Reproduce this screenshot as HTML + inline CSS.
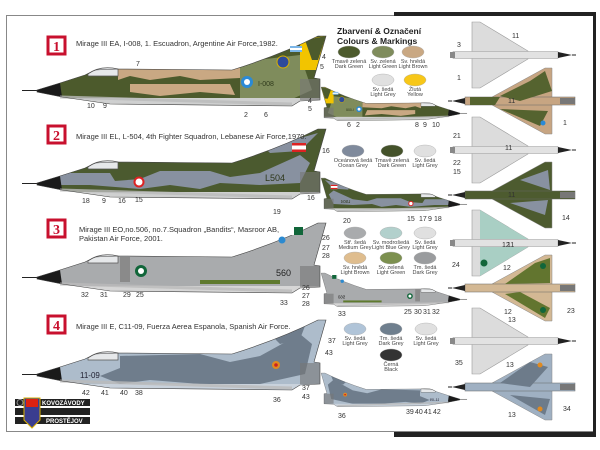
<!DOCTYPE html>
<html><head><meta charset="utf-8"><style>
html,body{margin:0;padding:0;background:#fff;}
svg{display:block;font-family:"Liberation Sans",sans-serif;}
.n{font-size:7px;fill:#333;}
.t{font-size:7.5px;fill:#333;}
.c{font-size:5.5px;fill:#444;text-anchor:middle;}
</style></head><body>
<svg width="600" height="450" viewBox="0 0 600 450" xmlns="http://www.w3.org/2000/svg">
<defs>
<path id="body" d="M37,90 L60,83 L85,75 L95,70 L118,69 L232,70 Q280,55 318,36 L326,36 L314,78 L320,79 L320,100 L300,101 L292,106 L110,104 L62,97 L37,92 Z"/>
<clipPath id="cb"><use href="#body"/></clipPath>
<g id="base">
 <line x1="22" y1="90.5" x2="40" y2="90.5" stroke="#222" stroke-width="1"/>
</g>
<g id="over">
 <path d="M37,90 L60,83 L62,97 L37,92 Z" fill="#1a1a1a"/>
 <path d="M88,74 Q100,65 118,69 L118,76 L88,76 Z" fill="#e6e8ea" stroke="#555" stroke-width="0.7"/>
 <rect x="300" y="79" width="20" height="21" fill="#777" opacity="0.6"/>
 <path d="M60,97 L292,104" stroke="#bbb" stroke-width="3" opacity="0.8"/>
 <use href="#body" fill="none" stroke="#444" stroke-width="0.6"/>
</g>
<g id="a1">
 <use href="#base"/>
 <g clip-path="url(#cb)">
  <rect x="0" y="0" width="340" height="120" fill="#4c5a2c"/>
  <path d="M118,68 L240,68 L240,78 L200,80 L180,76 L150,80 L130,76 L118,80 Z M130,84 L230,84 L235,95 L200,92 L160,96 L130,92Z" fill="#c9a883"/>
  <path d="M240,62 L300,55 L312,90 L290,100 L240,98 Z" fill="#7f8c5c"/>
  <path d="M300,40 L326,36 L316,70 L300,70 Z" fill="#f2c400"/>
  <path d="M305,40 L326,36 L318,60 L312,60 Z" fill="#4c5a2c"/>
  <rect x="0" y="98" width="340" height="12" fill="#cfd0d0"/>
 </g>
 <use href="#over"/>
 <circle cx="247" cy="82" r="6" fill="#2b8ad6"/><circle cx="247" cy="82" r="3" fill="#fff"/>
 <circle cx="283" cy="62" r="6" fill="#2e4a9a" stroke="#d9b000"/>
 <rect x="290" y="46" width="12" height="6" fill="#7bb6e8"/><rect x="290" y="48" width="12" height="2" fill="#fff"/>
 <text x="258" y="86" font-size="7" fill="#2f3a1c">I-008</text>
</g>
<g id="a2">
 <use href="#base"/>
 <g clip-path="url(#cb)">
  <rect x="0" y="0" width="340" height="120" fill="#4b5a2f"/>
  <path d="M60,80 L110,80 L115,88 L140,86 L160,78 L210,78 L230,84 L260,80 L300,62 L310,70 L300,90 L260,92 L220,90 L200,96 L170,92 L140,96 L90,92 L60,92Z" fill="#8891a0"/>
  <path d="M260,50 L300,45 L318,40 L300,58 L270,60Z" fill="#8891a0"/>
  <rect x="0" y="99" width="340" height="12" fill="#cfd0d0"/>
 </g>
 <use href="#over"/>
 <rect x="292" y="50" width="14" height="9" fill="#fff"/><rect x="292" y="50" width="14" height="2.5" fill="#d22"/><rect x="292" y="56.5" width="14" height="2.5" fill="#d22"/>
 <circle cx="139" cy="89" r="5.5" fill="#d22"/><circle cx="139" cy="89" r="3.5" fill="#fff"/>
 <text x="265" y="88" font-size="9" fill="#2d3619">L504</text>
</g>
<g id="a3">
 <use href="#base"/>
 <g clip-path="url(#cb)">
  <rect x="0" y="0" width="340" height="120" fill="#a9abad"/>
  <rect x="200" y="93" width="80" height="4" fill="#5f7a2e"/>
  <rect x="120" y="70" width="10" height="25" fill="#8a8a8a"/>
  <rect x="0" y="99" width="340" height="12" fill="#d6d6d6"/>
 </g>
 <use href="#over"/>
 <circle cx="141" cy="84" r="6" fill="#11663a"/><circle cx="141" cy="84" r="3" fill="#fff"/>
 <rect x="291" y="40" width="12" height="8" fill="#11663a"/><rect x="291" y="40" width="3" height="8" fill="#fff"/>
 <circle cx="282" cy="53" r="3.5" fill="#2c8ad0"/>
 <text x="276" y="89" font-size="9" fill="#222">560</text>
</g>
<g id="a4">
 <use href="#base"/>
 <g clip-path="url(#cb)">
  <rect x="0" y="0" width="340" height="120" fill="#adbccb"/>
  <path d="M120,72 L200,70 L230,78 L260,72 L300,50 L312,60 L305,90 L260,100 L200,100 L150,96 L120,100 L100,92 L120,84Z" fill="#6f7d8c"/>
  <path d="M270,50 L305,42 L300,55 L280,60Z" fill="#6f7d8c"/>
  <rect x="0" y="100" width="340" height="12" fill="#c9d2dc"/>
 </g>
 <use href="#over"/>
 <circle cx="276" cy="81" r="4" fill="#e08a20"/><circle cx="276" cy="81" r="1.8" fill="#c22"/>
 <text x="80" y="94" font-size="8" fill="#223">11-09</text>
</g>
<g id="gv">
 <path d="M472,-33 L480,-33 L528,-4 L528,4 L480,33 L472,33 Z" fill="#dcdcdc" stroke="#9a9a9a" stroke-width="0.6"/>
 <rect x="453" y="-3.5" width="105" height="7" fill="#e2e2e2" stroke="#999" stroke-width="0.5"/>
 <path d="M558,-3 L572,0 L558,3Z" fill="#222"/><line x1="572" y1="0" x2="576" y2="0" stroke="#222"/>
 <rect x="450" y="-3" width="5" height="6" fill="#888"/>
</g>
<g id="cv">
 <path d="M552,-33 L545,-33 L492,-4 L492,4 L545,33 L552,33 Z" stroke="#888" stroke-width="0.5"/>
 <rect x="465" y="-4" width="110" height="8" stroke="#666" stroke-width="0.5"/>
 <rect x="560" y="-3" width="15" height="6" fill="#777"/>
 <path d="M465,-3 L452,0 L465,3Z" fill="#222"/><line x1="452" y1="0" x2="448" y2="0" stroke="#222"/>
</g>
</defs>

<!-- frame -->
<rect x="6.5" y="15.5" width="588" height="416" fill="#fff" stroke="#888" stroke-width="1"/>
<rect x="394" y="12" width="201" height="4" fill="#222"/>
<rect x="593" y="12" width="3" height="425" fill="#222"/>
<rect x="394" y="432" width="201" height="5" fill="#222"/>

<use href="#a1"/>
<use href="#a2" transform="translate(0,93)"/>
<use href="#a3" transform="translate(0,187)"/>
<use href="#a4" transform="translate(0,284)"/>
<use href="#a1" transform="translate(477.6,69.8) scale(-0.48,0.48)"/>
<use href="#a2" transform="translate(477.6,160.8) scale(-0.48,0.48)"/>
<use href="#a3" transform="translate(477.6,255.8) scale(-0.48,0.48)"/>
<use href="#a4" transform="translate(477.6,355.8) scale(-0.48,0.48)"/>

<use href="#gv" transform="translate(0,55)"/>
<g transform="translate(0,101)"><use href="#cv" fill="#c7a582"/><path d="M500,-5 L530,-20 L545,-30 L552,-10 L520,0Z M500,8 L540,25 L548,10Z M470,-4 L500,-4 L495,4 L470,4Z" fill="#55632f"/><circle cx="543" cy="22" r="2.5" fill="#2b8ad6"/></g>
<use href="#gv" transform="translate(0,150)"/>
<g transform="translate(0,195)"><use href="#cv" fill="#4d5b2f"/><path d="M520,-15 L548,-25 L550,-5Z M510,8 L545,20 L548,5Z" fill="#8891a0"/></g>
<g transform="translate(0,243)"><use href="#gv"/><path d="M480,-33 L528,-4 L480,-4Z M480,33 L528,4 L480,4Z" fill="#a9cfc4"/><circle cx="484" cy="20" r="3.5" fill="#11663a"/></g>
<g transform="translate(0,288)"><use href="#cv" fill="#d3b894"/><path d="M505,-4 L535,-25 L550,-30 L550,-5Z M505,6 L545,30 L550,20 L520,4Z" fill="#62752f"/><circle cx="543" cy="-22" r="3" fill="#11663a"/><circle cx="543" cy="22" r="3" fill="#11663a"/></g>
<use href="#gv" transform="translate(0,341)"/>
<g transform="translate(0,387)"><use href="#cv" fill="#9fb0c2"/><path d="M500,-4 L530,-25 L548,-20 L530,0Z M510,8 L545,28 L550,12Z" fill="#6d7b8a"/><circle cx="540" cy="-22" r="2.5" fill="#e08a20"/><circle cx="540" cy="22" r="2.5" fill="#e08a20"/></g>

<g font-family="Liberation Serif,serif" font-weight="bold" font-size="14" text-anchor="middle" fill="#c8102e">
<rect x="48" y="37" width="17" height="17" fill="#fff" stroke="#c8102e" stroke-width="3"/><text x="56.5" y="51">1</text>
<rect x="48" y="126" width="17" height="17" fill="#fff" stroke="#c8102e" stroke-width="3"/><text x="56.5" y="140">2</text>
<rect x="48" y="220" width="17" height="17" fill="#fff" stroke="#c8102e" stroke-width="3"/><text x="56.5" y="234">3</text>
<rect x="48" y="316" width="17" height="17" fill="#fff" stroke="#c8102e" stroke-width="3"/><text x="56.5" y="330">4</text>
</g>
<text class="t" x="76" y="46">Mirage III EA, I-008, 1. Escuadron, Argentine Air Force,1982.</text>
<text class="t" x="76" y="139">Mirage III EL, L-504, 4th Fighter Squadron, Lebanese Air Force,1970.</text>
<text class="t" x="79" y="232">Mirage III EO,no.506, no.7.Squadron „Bandits“, Masroor AB,</text>
<text class="t" x="79" y="241">Pakistan Air Force, 2001.</text>
<text class="t" x="76" y="329">Mirage III E, C11-09, Fuerza Aerea Espanola, Spanish Air Force.</text>

<text x="337" y="34" font-size="8.5" font-weight="bold" fill="#222">Zbarvení &amp; Označení</text>
<text x="337" y="44" font-size="8.5" font-weight="bold" fill="#222">Colours &amp; Markings</text>

<g stroke="#aaa" stroke-width="0.4">
<ellipse cx="349" cy="52" rx="11" ry="6" fill="#4c5a2c"/><ellipse cx="383" cy="52" rx="11" ry="6" fill="#7f8c5c"/><ellipse cx="413" cy="52" rx="11" ry="6" fill="#c9a883"/>
<ellipse cx="383" cy="80" rx="11" ry="6" fill="#e0e0e0"/><ellipse cx="415" cy="80" rx="11" ry="6" fill="#f7c719"/>
<ellipse cx="353" cy="151" rx="11" ry="6" fill="#7f8a9c"/><ellipse cx="392" cy="151" rx="11" ry="6" fill="#44522a"/><ellipse cx="425" cy="151" rx="11" ry="6" fill="#e0e0e0"/>
<ellipse cx="355" cy="233" rx="11" ry="6" fill="#a9abad"/><ellipse cx="391" cy="233" rx="11" ry="6" fill="#b2d0cc"/><ellipse cx="425" cy="233" rx="11" ry="6" fill="#e0e0e0"/>
<ellipse cx="355" cy="258" rx="11" ry="6" fill="#dfbd8e"/><ellipse cx="391" cy="258" rx="11" ry="6" fill="#7c904f"/><ellipse cx="425" cy="258" rx="11" ry="6" fill="#9a9c9e"/>
<ellipse cx="355" cy="329" rx="11" ry="6" fill="#b0c4d8"/><ellipse cx="391" cy="329" rx="11" ry="6" fill="#6f7f8e"/><ellipse cx="426" cy="329" rx="11" ry="6" fill="#e0e0e0"/>
<ellipse cx="391" cy="355" rx="11" ry="6" fill="#333"/>
</g>
<g>
<text x="349" y="63" class="c">Tmavě zelená</text><text x="349" y="68" class="c">Dark Green</text>
<text x="383" y="63" class="c">Sv. zelená</text><text x="383" y="68" class="c">Light Green</text>
<text x="413" y="63" class="c">Sv. hnědá</text><text x="413" y="68" class="c">Light Brown</text>
<text x="383" y="91" class="c">Sv. šedá</text><text x="383" y="96" class="c">Light Grey</text>
<text x="415" y="91" class="c">Žlutá</text><text x="415" y="96" class="c">Yellow</text>
<text x="353" y="162" class="c">Oceánová šedá</text><text x="353" y="167" class="c">Ocean Grey</text>
<text x="392" y="162" class="c">Tmavě zelená</text><text x="392" y="167" class="c">Dark Green</text>
<text x="425" y="162" class="c">Sv. šedá</text><text x="425" y="167" class="c">Light Grey</text>
<text x="355" y="244" class="c">Stř. šedá</text><text x="355" y="249" class="c">Medium Grey</text>
<text x="391" y="244" class="c">Sv. modrošedá</text><text x="391" y="249" class="c">Light Blue Grey</text>
<text x="425" y="244" class="c">Sv. šedá</text><text x="425" y="249" class="c">Light Grey</text>
<text x="355" y="269" class="c">Sv. hnědá</text><text x="355" y="274" class="c">Light Brown</text>
<text x="391" y="269" class="c">Sv. zelená</text><text x="391" y="274" class="c">Light Green</text>
<text x="425" y="269" class="c">Tm. šedá</text><text x="425" y="274" class="c">Dark Grey</text>
<text x="355" y="340" class="c">Sv. šedá</text><text x="355" y="345" class="c">Light Grey</text>
<text x="391" y="340" class="c">Tm. šedá</text><text x="391" y="345" class="c">Dark Grey</text>
<text x="426" y="340" class="c">Sv. šedá</text><text x="426" y="345" class="c">Light Grey</text>
<text x="391" y="366" class="c">Černá</text><text x="391" y="371" class="c">Black</text>
</g>

<g class="n">
<text x="136" y="66">7</text><text x="87" y="108">10</text><text x="103" y="108">9</text><text x="244" y="117">2</text><text x="264" y="117">6</text>
<text x="322" y="59">4</text><text x="320" y="69">5</text><text x="308" y="103">4</text><text x="308" y="111">5</text>
<text x="347" y="127">6</text><text x="356" y="127">2</text><text x="415" y="127">8</text><text x="423" y="127">9</text><text x="432" y="127">10</text>
<text x="82" y="203">18</text><text x="102" y="203">9</text><text x="118" y="203">16</text><text x="135" y="202">15</text><text x="273" y="214">19</text>
<text x="322" y="153">16</text><text x="307" y="200">16</text><text x="343" y="223">20</text>
<text x="407" y="221">15</text><text x="419" y="221">17</text><text x="428" y="221">9</text><text x="434" y="221">18</text>
<text x="81" y="297">32</text><text x="100" y="297">31</text><text x="123" y="297">29</text><text x="136" y="297">25</text><text x="280" y="305">33</text>
<text x="322" y="240">26</text><text x="322" y="250">27</text><text x="322" y="258">28</text>
<text x="302" y="290">26</text><text x="302" y="298">27</text><text x="302" y="306">28</text><text x="338" y="316">33</text>
<text x="404" y="314">25</text><text x="414" y="314">30</text><text x="423" y="314">31</text><text x="432" y="314">32</text>
<text x="82" y="395">42</text><text x="101" y="395">41</text><text x="120" y="395">40</text><text x="135" y="395">38</text><text x="273" y="402">36</text>
<text x="328" y="343">37</text><text x="325" y="355">43</text><text x="302" y="390">37</text><text x="302" y="399">43</text><text x="338" y="418">36</text>
<text x="406" y="414">39</text><text x="415" y="414">40</text><text x="424" y="414">41</text><text x="433" y="414">42</text>
<text x="457" y="47">3</text><text x="512" y="38">11</text><text x="457" y="80">1</text><text x="508" y="103">11</text><text x="505" y="150">11</text><text x="563" y="125">1</text>
<text x="453" y="138">21</text><text x="453" y="165">22</text><text x="453" y="174">15</text><text x="508" y="197">11</text><text x="562" y="220">14</text>
<text x="502" y="247">12</text><text x="507" y="247">11</text><text x="452" y="267">24</text><text x="503" y="270">12</text><text x="504" y="314">12</text><text x="567" y="313">23</text>
<text x="508" y="322">13</text><text x="455" y="365">35</text><text x="506" y="367">13</text><text x="508" y="417">13</text><text x="563" y="411">34</text>
</g>

<g>
<rect x="15" y="399" width="75" height="7" fill="#222"/>
<rect x="15" y="408" width="75" height="7" fill="#222"/>
<rect x="15" y="417" width="75" height="7" fill="#222"/>
<circle cx="20" cy="402.5" r="3" fill="none" stroke="#aaa" stroke-width="0.8"/>
<path d="M24,398 L40,398 L40,420 L32,428 L24,420 Z" fill="#3a3d8f" stroke="#d9b000" stroke-width="1"/>
<rect x="26" y="399" width="12" height="8" fill="#d21"/>
<text x="42" y="405" font-size="6" font-weight="bold" fill="#fff">KOVOZÁVODY</text>
<text x="46" y="423" font-size="6" font-weight="bold" fill="#fff">PROSTĚJOV</text>
</g>
</svg>
</body></html>
